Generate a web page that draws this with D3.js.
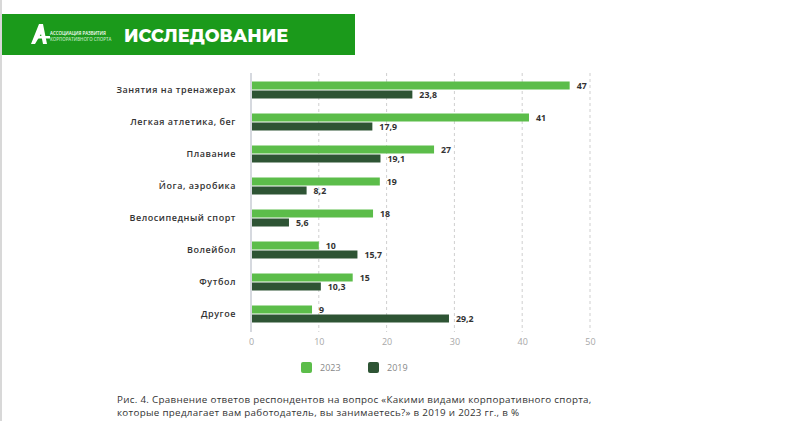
<!DOCTYPE html>
<html><head><meta charset="utf-8">
<script src="https://cdn.jsdelivr.net/npm/d3@7"></script>
<style>body{margin:0;background:#fff;}svg{display:block;}</style>
</head><body>
<svg id="c" width="800" height="421"></svg>
<script>
const categories = ["Занятия на тренажерах","Легкая атлетика, бег","Плавание","Йога, аэробика","Велосипедный спорт","Волейбол","Футбол","Другое"];
const values2023 = [47,41,27,19,18,10,15,9];
const values2019 = [23.8,17.9,19.1,8.2,5.6,15.7,10.3,29.2];
const seriesNames = ["2023","2019"];
const tickValues = [0,10,20,30,40,50];
const title = "ИССЛЕДОВАНИЕ";
const logoLines = ["АССОЦИАЦИЯ РАЗВИТИЯ","КОРПОРАТИВНОГО СПОРТА"];
const captionLines = ["Рис. 4. Сравнение ответов респондентов на вопрос «Какими видами корпоративного спорта,","которые предлагает вам работодатель, вы занимаетесь?» в 2019 и 2023 гг., в %"];

const C23 = "#5cbd4a", C19 = "#2e5434";
const svg = d3.select("#c");
const font = "'Open Sans', sans-serif";

// left border
svg.append("rect").attr("x",0).attr("y",0).attr("width",2).attr("height",421).attr("fill","#d8d8d8");

// header
svg.append("rect").attr("x",2).attr("y",14).attr("width",353).attr("height",41).attr("fill","#1b9a1b");
// logo mark
svg.append("path").attr("d","M31,44 L39,24 L43,24 L47,44 L43,44 L41,34 L35,44 Z").attr("fill","#fff");
svg.append("rect").attr("x",38).attr("y",36).attr("width",12).attr("height",2.5).attr("fill","#fff");
logoLines.forEach((t,i)=>{
  svg.append("text").attr("x",50).attr("y",35+i*5.5).text(t)
    .attr("font-family",font).attr("font-size",4.4).attr("font-weight",600)
    .attr("fill", i===0?"#fff":"#bfe6bf");
});
svg.append("text").attr("x",124).attr("y",42).text(title)
  .attr("font-family","'Montserrat','Open Sans',sans-serif").attr("font-size",17.7).attr("font-weight",800)
  .attr("fill","#fff");

// scales
const x = d3.scaleLinear().domain([0,50]).range([251,590]);
const y = d3.scaleBand().domain(categories).range([74,330]).padding(0);

// grid
const g = svg.append("g");
tickValues.slice(1).forEach(v=>{
  g.append("line").attr("x1",x(v)).attr("x2",x(v)).attr("y1",73).attr("y2",332)
   .attr("stroke","#cfcfcf").attr("stroke-width",1).attr("stroke-dasharray","3,3");
});
g.append("line").attr("x1",x(0)).attr("x2",x(0)).attr("y1",73).attr("y2",332)
 .attr("stroke","#c8ccd4").attr("stroke-width",1.5);

// x axis
const xa = svg.append("g").attr("transform","translate(0,333)")
  .call(d3.axisBottom(x).tickValues(tickValues).tickSize(0).tickPadding(6));
xa.select(".domain").remove();
xa.selectAll("text").attr("font-family",font).attr("font-size",9).attr("fill","#a8a8a8");

// category labels
categories.forEach((c,i)=>{
  const cy = y(c)+y.bandwidth()/2;
  svg.append("text").attr("x",236).attr("y",cy+3).attr("text-anchor","end").text(c)
    .attr("font-family",font).attr("font-size",9).attr("font-weight",600)
    .attr("letter-spacing",0.55).attr("fill","#333");
});

const fmt = v => String(v).replace(".",",");
// bars
[values2023, values2019].forEach((vals,s)=>{
  categories.forEach((c,i)=>{
    const cy = y(c)+y.bandwidth()/2;
    const by = s===0 ? cy-8.5 : cy+0.5;
    svg.append("rect").attr("x",x(0)+1).attr("y",by).attr("width",x(vals[i])-x(0)-1).attr("height",8)
      .attr("fill", s===0?C23:C19);
    svg.append("text").attr("x",x(vals[i])+7).attr("y",by+7.5).text(fmt(vals[i]))
      .attr("font-family",font).attr("font-size",8.8).attr("font-weight",700).attr("fill","#333");
  });
});

// legend
const leg = [[301,C23],[368,C19]];
leg.forEach((l,i)=>{
  svg.append("rect").attr("x",l[0]).attr("y",362).attr("width",11).attr("height",11).attr("rx",2).attr("fill",l[1]);
  svg.append("text").attr("x",l[0]+19).attr("y",371).text(seriesNames[i])
    .attr("font-family",font).attr("font-size",9).attr("fill","#888");
});

// caption
captionLines.forEach((t,i)=>{
  svg.append("text").attr("x",117).attr("y",403+i*13).text(t)
    .attr("font-family",font).attr("font-size",9.8).attr("font-weight",500)
    .attr("letter-spacing",0.3).attr("fill","#333");
});
</script>
</body></html>
